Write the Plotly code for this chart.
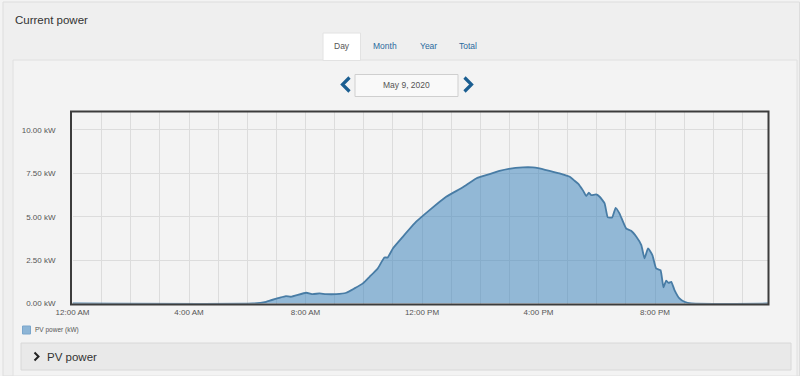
import plotly.graph_objects as go

# ---- data ----
hours = [0, 6.2, 6.65, 7.1, 7.33, 7.5, 8.02, 8.25, 8.48, 8.7, 9.05, 9.4, 9.68, 9.97,
         10.2, 10.48, 10.71, 10.82, 11.0, 11.34, 11.8, 12.26, 12.83, 13.4, 13.86,
         14.32, 14.66, 14.98, 15.46, 15.8, 15.99, 16.38, 16.72, 17.07, 17.24, 17.35,
         17.52, 17.64, 17.73, 17.81, 17.98, 18.1, 18.27, 18.38, 18.53, 18.65, 18.78,
         19.01, 19.18, 19.36, 19.53, 19.64, 19.76, 19.91, 20.04, 20.19, 20.29, 20.38,
         20.47, 20.56, 20.67, 20.84, 21.01, 21.25, 23.88]
pv_kw = [0, 0, 0.1, 0.33, 0.43, 0.39, 0.62, 0.54, 0.58, 0.54, 0.54, 0.62, 0.87, 1.16,
         1.54, 2.02, 2.65, 2.65, 3.17, 3.84, 4.71, 5.38, 6.15, 6.69, 7.2,
         7.45, 7.64, 7.76, 7.84, 7.84, 7.8, 7.64, 7.49, 7.3, 7.07, 6.92,
         6.53, 6.19, 6.38, 6.24, 6.28, 6.15, 5.77, 4.96, 4.96, 5.51, 5.19,
         4.32, 4.19, 3.84, 3.36, 2.6, 3.17, 2.79, 2.02, 1.92, 0.93, 1.31,
         1.19, 1.25, 0.77, 0.29, 0.1, 0, 0]
x_tick_vals = [0, 4, 8, 12, 16, 20]
x_tick_text = ["12:00 AM", "4:00 AM", "8:00 AM", "12:00 PM", "4:00 PM", "8:00 PM"]
y_tick_vals = [0, 2.5, 5, 7.5, 10]
y_tick_text = ["0.00 kW", "2.50 kW", "5.00 kW", "7.50 kW", "10.00 kW"]
series_name = "PV power (kW)"
tabs = ["Day", "Month", "Year", "Total"]
date_label = "May 9, 2020"
title_text = "Current power"
panel_text = "PV power"

W, H = 800, 376
FONT = "Liberation Sans, Arial, sans-serif"


def px(x):
    return x / W


def py(y):
    return 1 - y / H


fig = go.Figure()
fig.add_trace(go.Scatter(
    x=hours, y=pv_kw, mode="lines", name=series_name,
    line=dict(color="rgb(72,124,165)", width=1.8, shape="spline", smoothing=0.4),
    fill="tozeroy", fillcolor="rgba(50,125,185,0.5)",
    hoverinfo="skip", showlegend=False,
))

shapes = []
# outer panel
shapes.append(dict(type="rect", xref="paper", yref="paper", x0=px(3), x1=px(799.5), y0=py(376), y1=py(2),
                   line=dict(color="#dddddd", width=1), fillcolor="#efefef", layer="below"))
# inner panel
shapes.append(dict(type="rect", xref="paper", yref="paper", x0=px(13), x1=px(797), y0=py(376), y1=py(60),
                   line=dict(color="#e0e0e0", width=1), fillcolor="#f3f3f3", layer="below"))
# Day tab
shapes.append(dict(type="rect", xref="paper", yref="paper", x0=px(323), x1=px(360.5), y0=py(60.5), y1=py(33),
                   line=dict(color="#e2e2e2", width=1), fillcolor="#ffffff", layer="below"))
# date box
shapes.append(dict(type="rect", xref="paper", yref="paper", x0=px(355), x1=px(458), y0=py(96.5), y1=py(74.5),
                   line=dict(color="#cfcfcf", width=1), fillcolor="#f9f9f9", layer="below"))
# chevrons
shapes.append(dict(type="path", xref="paper", yref="paper",
                   path=f"M {px(349.5)} {py(77.5)} L {px(342.5)} {py(84.5)} L {px(349.5)} {py(91.5)}",
                   line=dict(color="#1b5e91", width=3.2)))
shapes.append(dict(type="path", xref="paper", yref="paper",
                   path=f"M {px(464.5)} {py(77.5)} L {px(471.5)} {py(84.5)} L {px(464.5)} {py(91.5)}",
                   line=dict(color="#1b5e91", width=3.2)))
# plot border
shapes.append(dict(type="rect", xref="paper", yref="paper", x0=px(71), x1=px(768.5), y0=py(304.5), y1=py(111.5),
                   line=dict(color="#3c3c3c", width=2), layer="above"))
# legend swatch
shapes.append(dict(type="rect", xref="paper", yref="paper", x0=px(22.5), x1=px(30.5), y0=py(334), y1=py(326),
                   line=dict(color="#7aa6cc", width=1), fillcolor="#8db5d6"))
# bottom panel
shapes.append(dict(type="rect", xref="paper", yref="paper", x0=px(21), x1=px(791), y0=py(370), y1=py(343),
                   line=dict(color="#d8d8d8", width=1), fillcolor="#e9e9e9", layer="below"))
shapes.append(dict(type="path", xref="paper", yref="paper",
                   path=f"M {px(34.5)} {py(352.5)} L {px(38.5)} {py(356.5)} L {px(34.5)} {py(360.5)}",
                   line=dict(color="#222222", width=2)))

annotations = [
    dict(text=title_text, x=px(13), y=py(20), xanchor="left", yanchor="middle",
         font=dict(family=FONT, size=11.5, color="#333333")),
    dict(text=date_label, x=px(406.5), y=py(85), xanchor="center", yanchor="middle",
         font=dict(family=FONT, size=8.5, color="#555555")),
    dict(text=series_name, x=px(33), y=py(330), xanchor="left", yanchor="middle",
         font=dict(family=FONT, size=6.5, color="#555555")),
    dict(text=panel_text, x=px(45), y=py(356.5), xanchor="left", yanchor="middle",
         font=dict(family=FONT, size=11.5, color="#333333")),
]
tab_x = [342, 384.5, 428, 468]
for t, tx in zip(tabs, tab_x):
    annotations.append(dict(text=t, x=px(tx), y=py(46), xanchor="center", yanchor="middle",
                            font=dict(family=FONT, size=8.5,
                                      color="#555555" if t == "Day" else "#2a6a9e")))
for a in annotations:
    a.update(xref="paper", yref="paper", showarrow=False)

fig.update_layout(
    width=W, height=H,
    margin=dict(l=0, r=0, t=0, b=0, pad=0, autoexpand=False),
    paper_bgcolor="#f3f3f3",
    plot_bgcolor="#f8f8f8",
    shapes=shapes,
    annotations=annotations,
    showlegend=False,
    xaxis=dict(
        domain=[px(72.5), px(768)], range=[0, 23.88],
        tickmode="array", tickvals=x_tick_vals, ticktext=x_tick_text,
        showgrid=True, gridcolor="#dcdcdc", gridwidth=1,
        minor=dict(dtick=1, tick0=0, showgrid=True, gridcolor="#dcdcdc", gridwidth=1),
        zeroline=False, showline=False, ticks="",
        ticklabelstandoff=2, automargin=False,
        tickfont=dict(family=FONT, size=8, color="#555555"),
        fixedrange=True,
    ),
    yaxis=dict(
        domain=[py(303.5), py(112)], range=[0, 11.03],
        tickmode="array", tickvals=y_tick_vals, ticktext=y_tick_text,
        showgrid=True, gridcolor="#dcdcdc", gridwidth=1,
        zeroline=False, showline=False, ticks="",
        ticklabelstandoff=16, automargin=False,
        tickfont=dict(family=FONT, size=8, color="#555555"),
        fixedrange=True,
    ),
)

fig.write_html("out.html", config={"displayModeBar": False},
               post_script="document.body.style.margin='0';document.body.style.overflow='hidden';")
